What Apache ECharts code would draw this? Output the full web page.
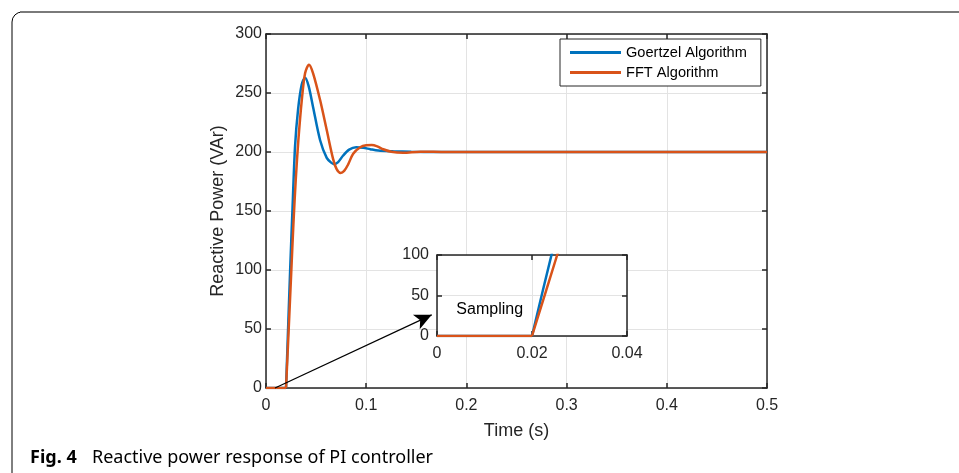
<!DOCTYPE html>
<html>
<head>
<meta charset="utf-8">
<script src="https://cdn.jsdelivr.net/npm/echarts@6/dist/echarts.min.js"></script>
<style>
html,body{margin:0;padding:0;background:#fff;}
#chart{width:959px;height:473px;}
</style>
</head>
<body>
<div id="chart"></div>
<script>
// ---- data ----
const seriesNames = ['Goertzel Algorithm', 'FFT Algorithm'];
const flatT = [0, 0.02];
const flatQ = [0, 0];
const tGoertzel = [0.02, 0.0241, 0.0265, 0.029, 0.032, 0.0356, 0.039, 0.0425, 0.047, 0.054, 0.0606, 0.065, 0.068, 0.072, 0.077, 0.083, 0.09, 0.097, 0.104, 0.112, 0.127, 0.145, 0.17, 0.5];
const qGoertzel = [0, 100, 153, 205, 236, 257, 263, 256, 238, 210, 195, 191, 189.7, 191.5, 197, 202, 204, 203.6, 202.4, 201.2, 200.6, 200.2, 200, 200];
const tFFT = [0.02, 0.0253, 0.0273, 0.0298, 0.0323, 0.0356, 0.039, 0.0429, 0.047, 0.054, 0.0606, 0.067, 0.0705, 0.0745, 0.078, 0.082, 0.087, 0.094, 0.1, 0.1055, 0.111, 0.117, 0.125, 0.137, 0.154, 0.18, 0.5];
const qFFT = [0, 100, 138, 178, 210, 243, 266.7, 274, 266.7, 244, 218.6, 194, 185.5, 182.3, 184, 189.5, 198.5, 204, 205.8, 206, 204.8, 202.3, 200.2, 199.4, 200.3, 200, 200];
const xTicksMain = [0, 0.1, 0.2, 0.3, 0.4, 0.5];
const yTicksMain = [0, 50, 100, 150, 200, 250, 300];
const xTicksInset = [0, 0.02, 0.04];
const yTicksInset = [0, 50, 100];
const arrowFrom = [0.009, 0];
const arrowTo = [0.1654, 62];
const annotText = 'Sampling';
const annotPos = [0.0111, 32];
const xName = 'Time (s)';
const yName = 'Reactive Power (VAr)';
const captionBold = 'Fig. 4';
const captionText = 'Reactive power response of PI controller';

const colors = ['#0072BD', '#D95319'];
const zip = (a, b) => a.map((v, i) => [v, b[i]]);

const axisFont = 'Liberation Sans, Arial, Helvetica, sans-serif';
const axisLineStyle = { color: '#262626', width: 1.5 };
const gridLineStyle = { color: '#e3e3e3', width: 1 };

function mkX(gridIndex, ticks, margin, opts) {
  return Object.assign({
    type: 'value', gridIndex,
    min: ticks[0], max: ticks[ticks.length - 1],
    interval: ticks[1] - ticks[0],
    axisLine: { show: true, onZero: false, lineStyle: axisLineStyle },
    axisTick: { show: true, inside: true, length: 5, lineStyle: axisLineStyle },
    axisLabel: { color: '#262626', fontSize: 16, fontFamily: axisFont, margin },
    splitLine: { show: true, lineStyle: gridLineStyle }
  }, opts || {});
}
function mkY(gridIndex, ticks, margin, opts) {
  return Object.assign({
    type: 'value', gridIndex,
    min: ticks[0], max: ticks[ticks.length - 1],
    interval: ticks[1] - ticks[0],
    axisLine: { show: true, onZero: false, lineStyle: axisLineStyle },
    axisTick: { show: true, inside: true, length: 5, lineStyle: axisLineStyle },
    axisLabel: { color: '#262626', fontSize: 16, fontFamily: axisFont, margin },
    splitLine: { show: true, lineStyle: gridLineStyle }
  }, opts || {});
}
const hidden = { axisLabel: { show: false }, splitLine: { show: false } };

const chart = echarts.init(document.getElementById('chart'), null, { renderer: 'canvas' });

const lineBase = { type: 'line', showSymbol: false, symbol: 'none', clip: true, animation: false };

function seriesFor(xi, yi, z) {
  return [
    Object.assign({}, lineBase, { name: seriesNames[0], xAxisIndex: xi, yAxisIndex: yi, z, data: zip(flatT, flatQ), color: colors[0], lineStyle: { width: 2.5, color: colors[0] } }),
    Object.assign({}, lineBase, { name: seriesNames[0], xAxisIndex: xi, yAxisIndex: yi, z, data: zip(tGoertzel, qGoertzel), smooth: 0.3, color: colors[0], lineStyle: { width: 2.5, color: colors[0] } }),
    Object.assign({}, lineBase, { name: seriesNames[1], xAxisIndex: xi, yAxisIndex: yi, z: z + 1, data: zip(flatT, flatQ), color: colors[1], lineStyle: { width: 2.5, color: colors[1] } }),
    Object.assign({}, lineBase, { name: seriesNames[1], xAxisIndex: xi, yAxisIndex: yi, z: z + 1, data: zip(tFFT, qFFT), smooth: 0.3, color: colors[1], lineStyle: { width: 2.5, color: colors[1] } })
  ];
}

const mainSeries = seriesFor(0, 0, 2);
const insetSeries = seriesFor(2, 2, 12);
const arrowSeries = {
  type: 'line', xAxisIndex: 0, yAxisIndex: 0, data: [], z: 5, silent: true,
  markLine: {
    silent: true, animation: false,
    symbol: ['none', 'arrow'], symbolSize: [12, 17],
    lineStyle: { color: '#000', width: 1.2, type: 'solid' },
    label: { show: false },
    data: [[{ coord: arrowFrom }, { coord: arrowTo }]]
  }
};

const labelFont = { color: '#262626', fontSize: 18, fontFamily: axisFont };

const baseGraphic = [
  { type: 'rect', silent: true, z: 100, shape: { x: 12, y: 12, width: 1100, height: 600, r: 10 }, style: { fill: null, stroke: '#000', lineWidth: 1 } },
  { type: 'line', silent: true, z: 101, shape: { x1: 20, y1: 12, x2: 959, y2: 12 }, style: { stroke: '#7a7a7a', lineWidth: 2 } },
  { type: 'text', silent: true, z: 100, left: 30, top: 449, style: { text: captionBold, fill: '#000', font: 'bold 18px "Noto Sans", sans-serif' } },
  { type: 'text', silent: true, z: 100, left: 92, top: 449, style: { text: captionText, fill: '#000', font: '18px "Noto Sans", sans-serif' } }
];

const option = {
  animation: false,
  backgroundColor: '#fff',
  grid: [
    { left: 266, right: 192, top: 34, bottom: 85, show: false, z: 0 },
    { left: 266, right: 192, top: 34, bottom: 85, show: false, z: 0 },
    { left: 437, right: 332, top: 255, bottom: 137, show: true, backgroundColor: '#fff', borderWidth: 0, z: 10 },
    { left: 437, right: 332, top: 255, bottom: 137, show: false, z: 10 }
  ],
  xAxis: [
    mkX(0, xTicksMain, 10, { name: xName, nameLocation: 'middle', nameGap: 34, nameTextStyle: labelFont }),
    mkX(1, xTicksMain, 10, Object.assign({ position: 'top' }, hidden)),
    mkX(2, xTicksInset, 10, { z: 10 }),
    mkX(3, xTicksInset, 10, Object.assign({ position: 'top', z: 10 }, hidden))
  ],
  yAxis: [
    mkY(0, yTicksMain, 4, { name: yName, nameLocation: 'middle', nameGap: 39, nameMoveOverlap: false, nameTextStyle: labelFont }),
    mkY(1, yTicksMain, 4, Object.assign({ position: 'right' }, hidden)),
    mkY(2, yTicksInset, 8, { z: 10 }),
    mkY(3, yTicksInset, 8, Object.assign({ position: 'right', z: 10 }, hidden))
  ],
  legend: {
    data: seriesNames,
    orient: 'vertical',
    left: 560, top: 39,
    padding: [6, 14, 6, 10],
    itemGap: 5,
    itemWidth: 51, itemHeight: 3,
    icon: 'rect',
    backgroundColor: '#fff',
    borderColor: '#262626', borderWidth: 1, borderRadius: 0,
    textStyle: { color: '#000', fontSize: 14.6, fontFamily: axisFont },
    z: 20
  },
  series: [...mainSeries, arrowSeries, ...insetSeries],
  graphic: baseGraphic
};
chart.setOption(option);

// annotation text inside the inset, placed through the inset's own scales
const p = chart.convertToPixel({ xAxisIndex: 2, yAxisIndex: 2 }, annotPos);
chart.setOption({
  graphic: baseGraphic.concat([
    { type: 'text', silent: true, z: 50, x: p[0], y: p[1],
      style: { text: annotText, fill: '#000', font: '16px ' + axisFont, align: 'center', verticalAlign: 'middle' } }
  ])
});
</script>
</body>
</html>
